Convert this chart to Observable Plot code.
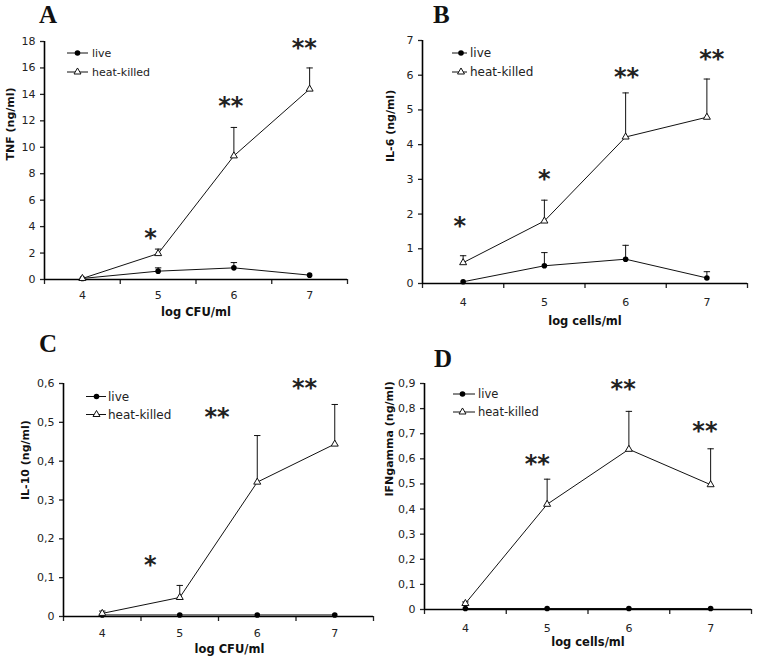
<!DOCTYPE html>
<html>
<head>
<meta charset="utf-8">
<script src="https://cdn.jsdelivr.net/npm/d3@7"></script>
<script src="https://cdn.jsdelivr.net/npm/@observablehq/plot@0.6"></script>
<style>
  html, body { margin: 0; padding: 0; background: #fff; }
  #root { position: relative; width: 757px; height: 660px; background: #fff; overflow: hidden; }
  .panel { position: absolute; }
  #overlay { position: absolute; left: 0; top: 0; }
</style>
</head>
<body>
<div id="root"></div>
<script>
// ---------- shared ----------
const xCats = [4, 5, 6, 7];
const xBounds = [3.5, 4.5, 5.5, 6.5, 7.5];
const seriesNames = ["live", "heat-killed"];
const panelLetters = ["A", "B", "C", "D"];

// ---------- A: TNF ----------
const tnfLive = [0.08, 0.63, 0.88, 0.33];
const tnfLiveUp = [null, 0.88, 1.28, null];
const tnfHK = [0.08, 1.96, 9.35, 14.4];
const tnfHKUp = [null, 2.3, 11.5, 16.0];
const tnfTicks = [0, 2, 4, 6, 8, 10, 12, 14, 16, 18];
const tnfStarX = [4.9, 5.96, 6.93];
const tnfStarY = [3.57, 13.56, 17.97];
const tnfStarText = ["*", "**", "**"];

// ---------- B: IL-6 ----------
const il6Live = [0.05, 0.51, 0.7, 0.16];
const il6LiveUp = [null, 0.89, 1.1, 0.34];
const il6HK = [0.6, 1.8, 4.22, 4.79];
const il6HKUp = [0.8, 2.4, 5.49, 5.89];
const il6Ticks = [0, 1, 2, 3, 4, 5, 6, 7];
const il6StarX = [3.96, 5.0, 6.01, 7.06];
const il6StarY = [1.82, 3.18, 6.11, 6.63];
const il6StarText = ["*", "*", "**", "**"];

// ---------- C: IL-10 ----------
const il10Live = [0.004, 0.004, 0.004, 0.004];
const il10LiveUp = [null, null, null, null];
const il10HK = [0.008, 0.049, 0.346, 0.444];
const il10HKUp = [0.014, 0.08, 0.466, 0.546];
const il10Ticks = [0, 0.1, 0.2, 0.3, 0.4, 0.5, 0.6];
const il10StarX = [4.62, 5.48, 6.61];
const il10StarY = [0.148, 0.528, 0.604];
const il10StarText = ["*", "**", "**"];

// ---------- D: IFNgamma ----------
const ifnLive = [0.004, 0.004, 0.004, 0.004];
const ifnLiveUp = [null, null, null, null];
const ifnHK = [0.024, 0.419, 0.638, 0.497];
const ifnHKUp = [0.03, 0.519, 0.789, 0.64];
const ifnTicks = [0, 0.1, 0.2, 0.3, 0.4, 0.5, 0.6, 0.7, 0.8, 0.9];
const ifnStarX = [4.88, 5.93, 6.93];
const ifnStarY = [0.601, 0.9, 0.734];
const ifnStarText = ["**", "**", "**"];

const commaFmt = d => d === 0 ? "0" : d.toFixed(1).replace(".", ",");
const intFmt = d => String(d);

// horizontal dash symbol for error-bar caps
const capSymbol = {
  draw(context, size) {
    const r = Math.sqrt(size / Math.PI);
    context.moveTo(-r, 0);
    context.lineTo(r, 0);
  }
};

function buildRows(live, liveUp, hk, hkUp) {
  const rows = [];
  xCats.forEach((x, i) => {
    rows.push({series: seriesNames[0], x, v: live[i], up: liveUp[i]});
    rows.push({series: seriesNames[1], x, v: hk[i], up: hkUp[i]});
  });
  return rows;
}

function makePanel(cfg) {
  const rows = buildRows(cfg.live, cfg.liveUp, cfg.hk, cfg.hkUp);
  const errRows = rows.filter(d => d.up != null);
  const stars = cfg.starX.map((x, i) => ({x, y: cfg.starY[i], t: cfg.starText[i]}));
  return Plot.plot({
    width: cfg.width,
    height: cfg.height,
    marginLeft: cfg.ml, marginRight: cfg.mr, marginTop: cfg.mt, marginBottom: cfg.mb,
    style: {fontFamily: "DejaVu Sans", fontSize: "11px", color: "#222", background: "transparent", overflow: "visible"},
    x: {domain: [3.5, 7.5], axis: null},
    y: {domain: cfg.yDomain, axis: null},
    marks: [
      Plot.axisY({ticks: cfg.yTicks, tickSize: 4, tickPadding: 5, tickFormat: cfg.fmt, label: null, strokeWidth: 1.3}),
      Plot.axisX({ticks: xBounds, tickSize: 5, tickFormat: () => "", label: null, strokeWidth: 1.3}),
      Plot.axisX({ticks: xCats, tickSize: 0, tickPadding: cfg.xPad, tickFormat: intFmt, label: null}),
      Plot.ruleX(errRows, {x: "x", y1: "v", y2: "up", stroke: "#111", strokeWidth: 1}),
      Plot.dot(errRows, {x: "x", y: "up", symbol: capSymbol, r: 3.2, stroke: "#111", strokeWidth: 1, fill: "none"}),
      Plot.line(rows, {x: "x", y: "v", z: "series", stroke: "#111", strokeWidth: 1}),
      Plot.ruleY([0], {stroke: "#000", strokeWidth: 1.6}),
      Plot.ruleX([3.5], {stroke: "#000", strokeWidth: 1.6}),
      Plot.dot(rows.filter(d => d.series === seriesNames[0]), {x: "x", y: "v", symbol: "circle", r: 2.8, fill: "#000", stroke: "none"}),
      Plot.dot(rows.filter(d => d.series === seriesNames[1]), {x: "x", y: "v", symbol: "triangle", r: 2.6, fill: "#fff", stroke: "#111", strokeWidth: 1}),
      Plot.text(stars, {x: "x", y: "y", text: "t", fontFamily: "DejaVu Sans", fontWeight: "bold", fontSize: 24, dy: 6, fill: "#222", style: "letter-spacing:3px"}),
      Plot.text([cfg.yLabel], {frameAnchor: "left", dx: cfg.yLabelDx, rotate: -90, fontWeight: "bold", fontSize: 11, fill: "#111"}),
      Plot.text([cfg.xLabel], {frameAnchor: "bottom", dy: cfg.xLabelDy, dx: cfg.xLabelDx || 0, fontWeight: "bold", fontSize: 11.5, fill: "#111"})
    ]
  });
}

const panels = [
  {left: 0, top: 0, width: 380, height: 330, ml: 44, mr: 33, mt: 41, mb: 51,
   yDomain: [0, 18], yTicks: tnfTicks, fmt: intFmt, xPad: 12,
   live: tnfLive, liveUp: tnfLiveUp, hk: tnfHK, hkUp: tnfHKUp,
   starX: tnfStarX, starY: tnfStarY, starText: tnfStarText,
   yLabel: "TNF (ng/ml)", yLabelDx: -34, xLabel: "log CFU/ml", xLabelDy: 36},
  {left: 380, top: 0, width: 377, height: 330, ml: 42, mr: 10, mt: 40, mb: 47,
   yDomain: [0, 7], yTicks: il6Ticks, fmt: intFmt, xPad: 15,
   live: il6Live, liveUp: il6LiveUp, hk: il6HK, hkUp: il6HKUp,
   starX: il6StarX, starY: il6StarY, starText: il6StarText,
   yLabel: "IL-6 (ng/ml)", yLabelDx: -32, xLabel: "log cells/ml", xLabelDy: 41},
  {left: 0, top: 330, width: 380, height: 330, ml: 63, mr: 7, mt: 53, mb: 44,
   yDomain: [0, 0.6], yTicks: il10Ticks, fmt: commaFmt, xPad: 13,
   live: il10Live, liveUp: il10LiveUp, hk: il10HK, hkUp: il10HKUp,
   starX: il10StarX, starY: il10StarY, starText: il10StarText,
   yLabel: "IL-10 (ng/ml)", yLabelDx: -38, xLabel: "log CFU/ml", xLabelDy: 36, xLabelDx: 11},
  {left: 380, top: 330, width: 377, height: 330, ml: 44, mr: 6, mt: 53, mb: 51,
   yDomain: [0, 0.9], yTicks: ifnTicks, fmt: commaFmt, xPad: 15,
   live: ifnLive, liveUp: ifnLiveUp, hk: ifnHK, hkUp: ifnHKUp,
   starX: ifnStarX, starY: ifnStarY, starText: ifnStarText,
   yLabel: "IFNgamma (ng/ml)", yLabelDx: -35, xLabel: "log cells/ml", xLabelDy: 36}
];

const root = document.getElementById("root");
panels.forEach(cfg => {
  const div = document.createElement("div");
  div.className = "panel";
  div.style.left = cfg.left + "px";
  div.style.top = cfg.top + "px";
  div.appendChild(makePanel(cfg));
  root.appendChild(div);
});

// ---------- overlay: panel letters + legends ----------
const overlay = d3.select(root).append("svg")
  .attr("id", "overlay").attr("width", 757).attr("height", 660);

const letterPos = [[39, 23], [433, 23], [39, 352], [434, 367]];
overlay.selectAll("text.letter").data(panelLetters).join("text")
  .attr("class", "letter")
  .attr("x", (d, i) => letterPos[i][0])
  .attr("y", (d, i) => letterPos[i][1])
  .attr("font-family", "Liberation Serif")
  .attr("font-weight", "bold")
  .attr("font-size", 25)
  .attr("fill", "#111")
  .text(d => d);

const legends = [
  {x0: 67, x1: 88, xm: 77.5, xt: 92, ys: [53, 72], fs: 11},
  {x0: 452, x1: 467, xm: 461, xt: 470, ys: [53, 72], fs: 12},
  {x0: 86, x1: 106, xm: 96.5, xt: 108, ys: [396.5, 414.5], fs: 12},
  {x0: 453, x1: 475, xm: 462.5, xt: 478, ys: [394, 412], fs: 11.5}
];
legends.forEach(L => {
  seriesNames.forEach((name, i) => {
    const y = L.ys[i];
    overlay.append("line").attr("x1", L.x0).attr("x2", L.x1).attr("y1", y).attr("y2", y)
      .attr("stroke", "#111").attr("stroke-width", 1);
    if (i === 0) {
      overlay.append("circle").attr("cx", L.xm).attr("cy", y).attr("r", 2.8).attr("fill", "#000");
    } else {
      overlay.append("path").attr("transform", `translate(${L.xm},${y})`)
        .attr("d", d3.symbol(d3.symbolTriangle, 21)()).attr("fill", "#fff").attr("stroke", "#111");
    }
    overlay.append("text").attr("x", L.xt).attr("y", y).attr("dy", "0.35em")
      .attr("font-family", "DejaVu Sans").attr("font-size", L.fs).attr("fill", "#222")
      .text(name);
  });
});
</script>
</body>
</html>
